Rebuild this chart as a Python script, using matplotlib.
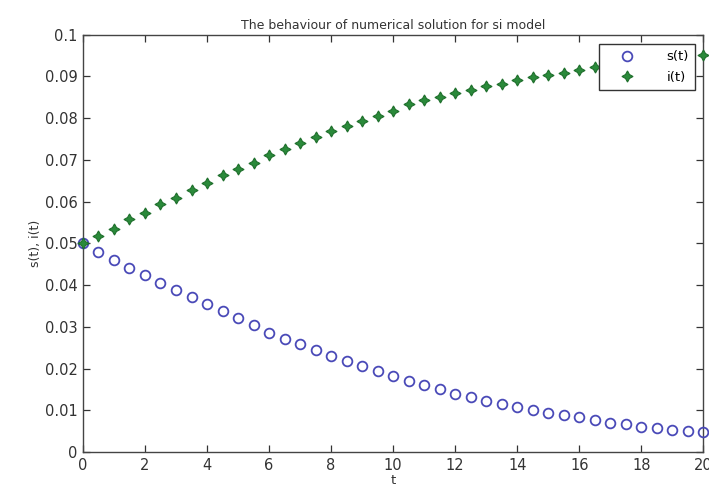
import matplotlib
matplotlib.use("Agg")
import matplotlib.pyplot as plt

# time steps (every 0.5 from 0 to 20)
t = [0, 0.5, 1, 1.5, 2, 2.5, 3, 3.5, 4, 4.5, 5, 5.5, 6, 6.5, 7, 7.5, 8, 8.5, 9, 9.5,
     10, 10.5, 11, 11.5, 12, 12.5, 13, 13.5, 14, 14.5, 15, 15.5, 16, 16.5, 17, 17.5,
     18, 18.5, 19, 19.5, 20]

# values
s_vals = [0.0500, 0.0479, 0.0461, 0.0442, 0.0423, 0.0406, 0.0389, 0.0372, 0.0354, 0.0337,
          0.0320, 0.0304, 0.0285, 0.0272, 0.0258, 0.0244, 0.0231, 0.0218, 0.0206, 0.0194,
          0.0183, 0.0171, 0.0160, 0.0150, 0.0140, 0.0132, 0.0123, 0.0115, 0.0108, 0.0100,
          0.0094, 0.0089, 0.0083, 0.0077, 0.0070, 0.0067, 0.0061, 0.0058, 0.0053, 0.0050,
          0.0047]
i_vals = [0.0500, 0.0517, 0.0535, 0.0557, 0.0573, 0.0593, 0.0609, 0.0627, 0.0644, 0.0663,
          0.0679, 0.0693, 0.0711, 0.0727, 0.0740, 0.0754, 0.0768, 0.0781, 0.0793, 0.0805,
          0.0817, 0.0834, 0.0842, 0.0850, 0.0860, 0.0868, 0.0876, 0.0882, 0.0890, 0.0898,
          0.0902, 0.0908, 0.0916, 0.0923, 0.0930, 0.0933, 0.0939, 0.0942, 0.0947, 0.0950,
          0.0952]

x_ticks = [0, 2, 4, 6, 8, 10, 12, 14, 16, 18, 20]
y_ticks = [0, 0.01, 0.02, 0.03, 0.04, 0.05, 0.06, 0.07, 0.08, 0.09, 0.1]
y_tick_labels = ["0", "0.01", "0.02", "0.03", "0.04", "0.05", "0.06", "0.07", "0.08", "0.09", "0.1"]

text_color = "#333333"

fig = plt.figure(figsize=(7.09, 4.93), dpi=100)
ax = fig.add_axes([0.117, 0.083, 0.875, 0.847])

ax.plot(t, s_vals, linestyle="none", marker="o", markersize=7, markerfacecolor="none",
        markeredgecolor="#4a4ab8", markeredgewidth=1.3, label="s(t)", clip_on=False, zorder=3)
ax.plot(t, i_vals, linestyle="none", marker=(4, 1, 0), markersize=8,
        markerfacecolor="#2a8a3a", markeredgecolor="#1f6f2c", markeredgewidth=0.8,
        label="i(t)", clip_on=False, zorder=3)

ax.set_xlim(0, 20)
ax.set_ylim(0, 0.1)
ax.set_xticks(x_ticks)
ax.set_xticklabels([str(v) for v in x_ticks])
ax.set_yticks(y_ticks)
ax.set_yticklabels(y_tick_labels)

ax.tick_params(direction="in", top=True, right=True, length=5, width=0.9,
               labelsize=10.5, colors=text_color, pad=4)
for sp in ax.spines.values():
    sp.set_color("#444444")
    sp.set_linewidth(1.0)

ax.set_title("The behaviour of numerical solution for si model", fontsize=9, color=text_color, pad=4)
ax.set_xlabel("t", fontsize=9.5, color=text_color, labelpad=1)
ax.set_ylabel("s(t), i(t)", fontsize=9, color=text_color, labelpad=2)

leg = ax.legend(loc="upper right", bbox_to_anchor=(0.987, 0.978), fontsize=9.5, frameon=True,
                fancybox=False, edgecolor="#333333", framealpha=1.0, markerfirst=True,
                handletextpad=1.4, borderpad=0.5, labelspacing=0.55, handlelength=3.2,
                borderaxespad=0)
leg.get_frame().set_linewidth(1.0)
leg.set_zorder(10)

fig.savefig("out.png", dpi=100)
